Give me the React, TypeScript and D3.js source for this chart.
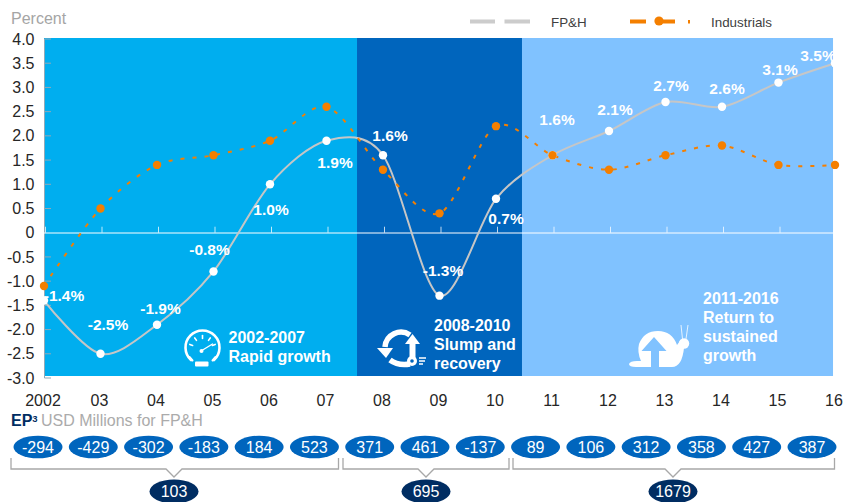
import React from "react";
import * as d3 from "d3";

const years = ["2002", "03", "04", "05", "06", "07", "08", "09", "10", "11", "12", "13", "14", "15", "16"];
const fph = [-1.4, -2.5, -1.9, -0.8, 1.0, 1.9, 1.6, -1.3, 0.7, 1.6, 2.1, 2.7, 2.6, 3.1, 3.5];
const industrials = [-1.1, 0.5, 1.4, 1.6, 1.9, 2.6, 1.3, 0.4, 2.2, 1.6, 1.3, 1.6, 1.8, 1.4, 1.4];
const yTicks = [4, 3.5, 3, 2.5, 2, 1.5, 1, 0.5, 0, -0.5, -1, -1.5, -2, -2.5, -3];
const ep = [-294, -429, -302, -183, 184, 523, 371, 461, -137, 89, 106, 312, 358, 427, 387];
const epTotals = [103, 695, 1679];

const FONT = "'Liberation Sans', Arial, sans-serif";
const x = d3.scaleLinear().domain([0, 14]).range([44, 835]);
const y = d3.scaleLinear().domain([-3, 4]).range([378, 39]);
const epX = d3.scaleLinear().domain([0, 14]).range([38, 812]);

const lineGen = d3
  .line<number>()
  .x((_, i) => x(i))
  .y((d) => y(d))
  .curve(d3.curveCardinal.tension(0.1));

// label centre offset from its point
const labelDx = [20, 7.5, 3.5, -4, 1, 8.5, 7, 3.5, 10, 4.5, 6, 5.5, 5, 1.5, -17];
const labelDy = [-5, -29, -16, -22, 25, 22, -20, -25, 20, -36, -22, -16, -18, -13, -8];

const bands = [
  { from: 0, to: 5.54, fill: "#00AEEF" },
  { from: 5.54, to: 8.46, fill: "#0065BD" },
  { from: 8.46, to: 13.965, fill: "#80C2FF" },
];

const bandNotes = [
  { lines: ["2002-2007", "Rapid growth"], x: 228.5, y: 343 },
  { lines: ["2008-2010", "Slump and", "recovery"], x: 434, y: 331 },
  { lines: ["2011-2016", "Return to", "sustained", "growth"], x: 703, y: 304 },
];

const brackets = [
  { left: 11, right: 338.5, mid: 174 },
  { left: 343, right: 509, mid: 426 },
  { left: 513, right: 834.5, mid: 673 },
];

const Gauge = () => (
  <g fill="none" stroke="#fff" strokeLinecap="round">
    <path d="M191 360 A17 17 0 1 1 214 360" strokeWidth={2.6} />
    <path d="M189.5 357 l3 3.5 M215.5 357 l-3 3.5" strokeWidth={2} />
    {[-70, -35, 0, 35, 70].map((a) => (
      <line key={a} x1={202.5} y1={335.5} x2={202.5} y2={338.5} strokeWidth={1.6} transform={`rotate(${a} 202.5 349)`} />
    ))}
    <circle cx={201.5} cy={351} r={2} fill="#fff" stroke="none" />
    <path d="M201 351 L212.5 344" strokeWidth={1.4} />
    <rect x={195} y={361.5} width={13.5} height={5} rx={1} fill="#fff" stroke="none" />
  </g>
);

const Cycle = () => (
  <g>
    <g fill="none" stroke="#fff" strokeWidth={5.5}>
      <path d="M385 347 A16 16 0 0 1 410 335" />
      <path d="M390 360 Q398 366 410 364" />
    </g>
    <path d="M377 348 L393 348 L386 358 Z" fill="#fff" />
    <path d="M412.5 334 L420 344 L405 344 Z" fill="#fff" />
    <rect x={409.5} y={344} width={6} height={14} fill="#fff" />
    <circle cx={412} cy={361} r={5} fill="#fff" />
    <circle cx={412} cy={361} r={1.8} fill="#0065BD" />
    <path d="M419 358 h7 M419 361 h6 M419 364 h4" stroke="#fff" strokeWidth={1.6} />
  </g>
);

const Snail = () => (
  <g>
    <path
      d="M629 364 Q630 361 637 361 L641 361 Q637 352 639 344 Q644 331 658 331 Q672 331 677 345 L680 341 L684 348 Q682 367 672 367 L636 367 Q629 367 629 364 Z"
      fill="#fff"
    />
    <circle cx={684} cy={343.5} r={5.2} fill="#fff" />
    <path d="M654 337 L666.5 351 L659 351 L659 368 L651 368 L651 351 L641.5 351 Z" fill="#80C2FF" />
    <path d="M682.5 339 L681 325 M686 339 L688 325" stroke="#fff" strokeWidth={0.8} fill="none" />
  </g>
);

export default function App() {
  return (
    <svg
      width={846}
      height={502}
      viewBox="0 0 846 502"
      style={{ position: "absolute", left: 0, top: 0, background: "#fff" }}
      fontFamily={FONT}
    >
      <text x={11} y={24} fontSize={16} fill="#A5A5A5">Percent</text>

      {/* legend */}
      <path d="M470 21.5 H495 M504.5 21.5 H530" stroke="#CCCCCC" strokeWidth={4} />
      <text x={551} y={27} fontSize={13.4} fill="#404040">FP&amp;H</text>
      <path d="M630 21.5 H646 M660 21.5 H675" stroke="#F47F00" strokeWidth={4} />
      <path d="M689 20 V23.5" stroke="#F47F00" strokeWidth={2} />
      <circle cx={659} cy={21} r={4.6} fill="#F47F00" />
      <text x={711} y={27} fontSize={13.4} fill="#404040">Industrials</text>

      {/* period bands */}
      {bands.map((b) => (
        <rect key={b.fill} x={x(b.from)} y={38} width={x(b.to) - x(b.from)} height={338} fill={b.fill} />
      ))}

      {/* y axis */}
      <path d={`M44.5 39 V${y(-3)}`} stroke="#8FA9B8" strokeWidth={1} fill="none" />
      {yTicks.filter((t) => t !== 0).map((t) => (
        <line key={t} x1={44.5} x2={51} y1={y(t)} y2={y(t)} stroke="#8FA9B8" strokeWidth={1} />
      ))}
      {yTicks.map((t) => (
        <text key={t} x={34.5} y={y(t) + 5.6} fontSize={16} textAnchor="end" fill="#262626">
          {t === 0 ? "0" : t.toFixed(1)}
        </text>
      ))}

      {/* zero line */}
      <line x1={44} x2={833} y1={y(0) + 0.3} y2={y(0) + 0.3} stroke="#fff" strokeWidth={1} />
      {years.slice(0, 14).map((yr, i) => (
        <line key={yr} x1={x(i) + 1.5} x2={x(i) + 1.5} y1={y(0)} y2={y(0) - 6} stroke="#fff" strokeOpacity={0.75} strokeWidth={1} />
      ))}

      {/* x labels */}
      {years.map((yr, i) => (
        <text key={yr} x={x(i) - 1} y={405.5} fontSize={16} textAnchor="middle" fill="#262626">{yr}</text>
      ))}

      {/* band notes */}
      {bandNotes.map((n) => (
        <text key={n.lines[0]} fontSize={16} fontWeight={700} fill="#fff">
          {n.lines.map((l, i) => (
            <tspan key={l} x={n.x} y={n.y + i * 19}>{l}</tspan>
          ))}
        </text>
      ))}
      <Gauge />
      <Cycle />
      <Snail />

      {/* series */}
      <path d={lineGen(fph) ?? ""} fill="none" stroke="#C6C6C6" strokeWidth={2} />
      <path d={lineGen(industrials) ?? ""} fill="none" stroke="#F47F00" strokeWidth={2} strokeDasharray="4 8" />
      {fph.map((v, i) => (
        <circle key={i} cx={x(i)} cy={y(v)} r={4.2} fill="#fff" />
      ))}
      {fph.map((v, i) => (
        <text key={i} x={x(i) + labelDx[i]} y={y(v) + labelDy[i] + 5.5} fontSize={15.5} fontWeight={700} fill="#fff" textAnchor="middle">
          {v.toFixed(1)}%
        </text>
      ))}
      {industrials.map((v, i) => (
        <circle key={i} cx={x(i)} cy={y(v)} r={4.2} fill="#F47F00" />
      ))}

      {/* EP */}
      <text x={11} y={426} fontSize={16} fontWeight={700} fill="#002D62">
        EP<tspan fontSize={9.5} dy={-4}>3</tspan>
      </text>
      <text x={41} y={426} fontSize={16} fill="#ABABAB">USD Millions for FP&amp;H</text>

      {ep.map((v, i) => (
        <g key={i}>
          <ellipse cx={epX(i)} cy={447} rx={24.5} ry={11.3} fill="#0065BD" />
          <text x={epX(i)} y={452.7} fontSize={16} fill="#fff" textAnchor="middle">{v}</text>
        </g>
      ))}

      {brackets.map((b) => (
        <path
          key={b.mid}
          d={`M${b.left} 458 V469 H${b.mid - 8} L${b.mid} 477 L${b.mid + 8} 469 H${b.right} V458`}
          fill="none"
          stroke="#A8A8A8"
          strokeWidth={1.3}
        />
      ))}
      {epTotals.map((v, i) => (
        <g key={v}>
          <ellipse cx={brackets[i].mid} cy={491.5} rx={24.5} ry={12} fill="#002D62" />
          <text x={brackets[i].mid} y={497.2} fontSize={16} fill="#fff" textAnchor="middle">{v}</text>
        </g>
      ))}
    </svg>
  );
}
